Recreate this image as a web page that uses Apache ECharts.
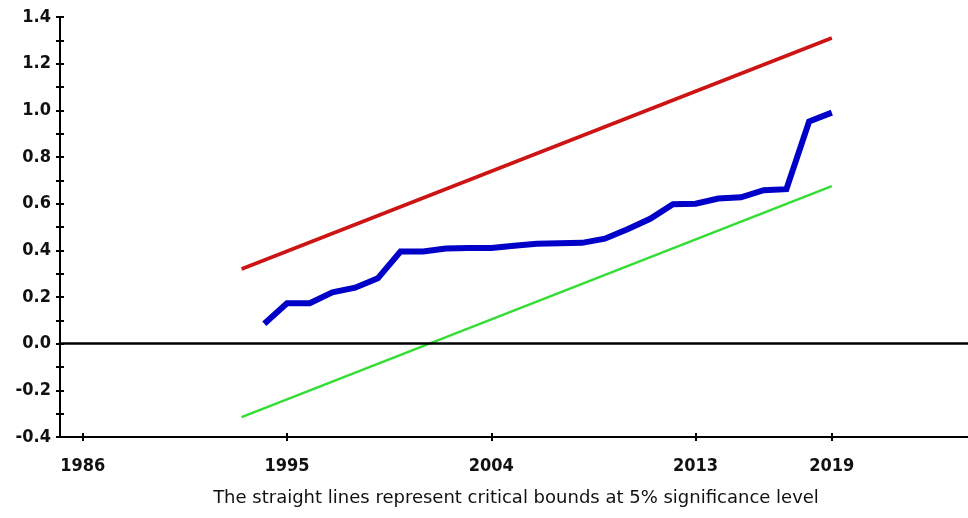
<!DOCTYPE html>
<html>
<head>
<meta charset="utf-8">
<script src="https://cdn.jsdelivr.net/npm/echarts@6/dist/echarts.min.js"></script>
<style>
  html, body { margin: 0; padding: 0; background: #fff; }
  #chart { width: 968px; height: 518px; }
</style>
</head>
<body>
<div id="chart"></div>
<script>
// CUSUM of squares with 5% critical bounds
const years = [1994, 1995, 1996, 1997, 1998, 1999, 2000, 2001, 2002, 2003, 2004, 2005, 2006,
               2007, 2008, 2009, 2010, 2011, 2012, 2013, 2014, 2015, 2016, 2017, 2018, 2019];
const cusumsq = [0.085, 0.173, 0.173, 0.22, 0.24, 0.28, 0.395, 0.395, 0.408, 0.41, 0.41, 0.42, 0.428,
                 0.43, 0.432, 0.45, 0.49, 0.535, 0.598, 0.60, 0.622, 0.627, 0.658, 0.662, 0.952, 0.99];
const boundYears = [1993, 2019];
const upperBound = [0.32, 1.31];
const lowerBound = [-0.315, 0.675];
const xTickYears = [1986, 1995, 2004, 2013, 2019];
const caption = 'The straight lines represent critical bounds at 5% significance level';

const pairs = (xs, ys) => xs.map((x, i) => [x, ys[i]]);

const labelFont = {
  color: '#111',
  fontFamily: '"DejaVu Sans Condensed", "DejaVu Sans", sans-serif',
  fontWeight: 'bold',
  fontSize: 18
};

const yFmt = v => {
  const r = Math.round(v * 10);
  return r % 2 === 0 ? (r / 10).toFixed(1) : '';
};

const chart = echarts.init(document.getElementById('chart'), null, { renderer: 'canvas' });

const xCommon = {
  type: 'value', min: 1985, max: 2025,
  splitLine: { show: false },
  axisLine: { show: true, onZero: false, lineStyle: { color: '#000', width: 2 } }
};
const yCommon = {
  type: 'value', min: -0.4, max: 1.4, interval: 0.1,
  splitLine: { show: false },
  axisLine: { show: true, onZero: false, lineStyle: { color: '#000', width: 2 } }
};

chart.setOption({
  animation: false,
  backgroundColor: '#fff',
  grid: { left: 60, top: 17, width: 912, height: 420, containLabel: false },
  xAxis: [
    Object.assign({}, xCommon, {
      position: 'bottom',
      axisTick: { show: true, inside: false, length: 4, customValues: xTickYears, lineStyle: { color: '#000', width: 2 } },
      axisLabel: Object.assign({ customValues: xTickYears, margin: 20, formatter: v => String(v) }, labelFont)
    }),
    Object.assign({}, xCommon, {
      position: 'bottom', offset: 0,
      axisTick: { show: true, inside: true, length: 4, customValues: xTickYears, lineStyle: { color: '#000', width: 2 } },
      axisLabel: { show: false }
    })
  ],
  yAxis: [
    Object.assign({}, yCommon, {
      position: 'left',
      axisTick: { show: true, inside: false, length: 4, lineStyle: { color: '#000', width: 2 } },
      axisLabel: Object.assign({ margin: 9, formatter: yFmt }, labelFont)
    }),
    Object.assign({}, yCommon, {
      position: 'left', offset: 0,
      axisTick: { show: true, inside: true, length: 4, lineStyle: { color: '#000', width: 2 } },
      axisLabel: { show: false }
    })
  ],
  graphic: [{
    type: 'text',
    x: 516,
    y: 498,
    style: {
      text: caption,
      fill: '#111',
      font: '18px "DejaVu Sans", sans-serif',
      textAlign: 'center',
      textVerticalAlign: 'middle'
    }
  }],
  series: [
    {
      name: 'Upper bound', type: 'line', data: pairs(boundYears, upperBound),
      symbol: 'none', lineStyle: { color: '#cc1414', width: 3.5 },
      markLine: {
        silent: true, symbol: 'none', label: { show: false },
        lineStyle: { color: '#000', width: 2.5, type: 'solid' },
        data: [{ yAxis: 0 }]
      }
    },
    {
      name: 'Lower bound', type: 'line', data: pairs(boundYears, lowerBound),
      symbol: 'none', lineStyle: { color: '#33dd33', width: 2.5 }
    },
    {
      name: 'CUSUM of squares', type: 'line', data: pairs(years, cusumsq),
      symbol: 'none', lineStyle: { color: '#0000c8', width: 6, join: 'miter' }
    }
  ]
});
</script>
</body>
</html>
